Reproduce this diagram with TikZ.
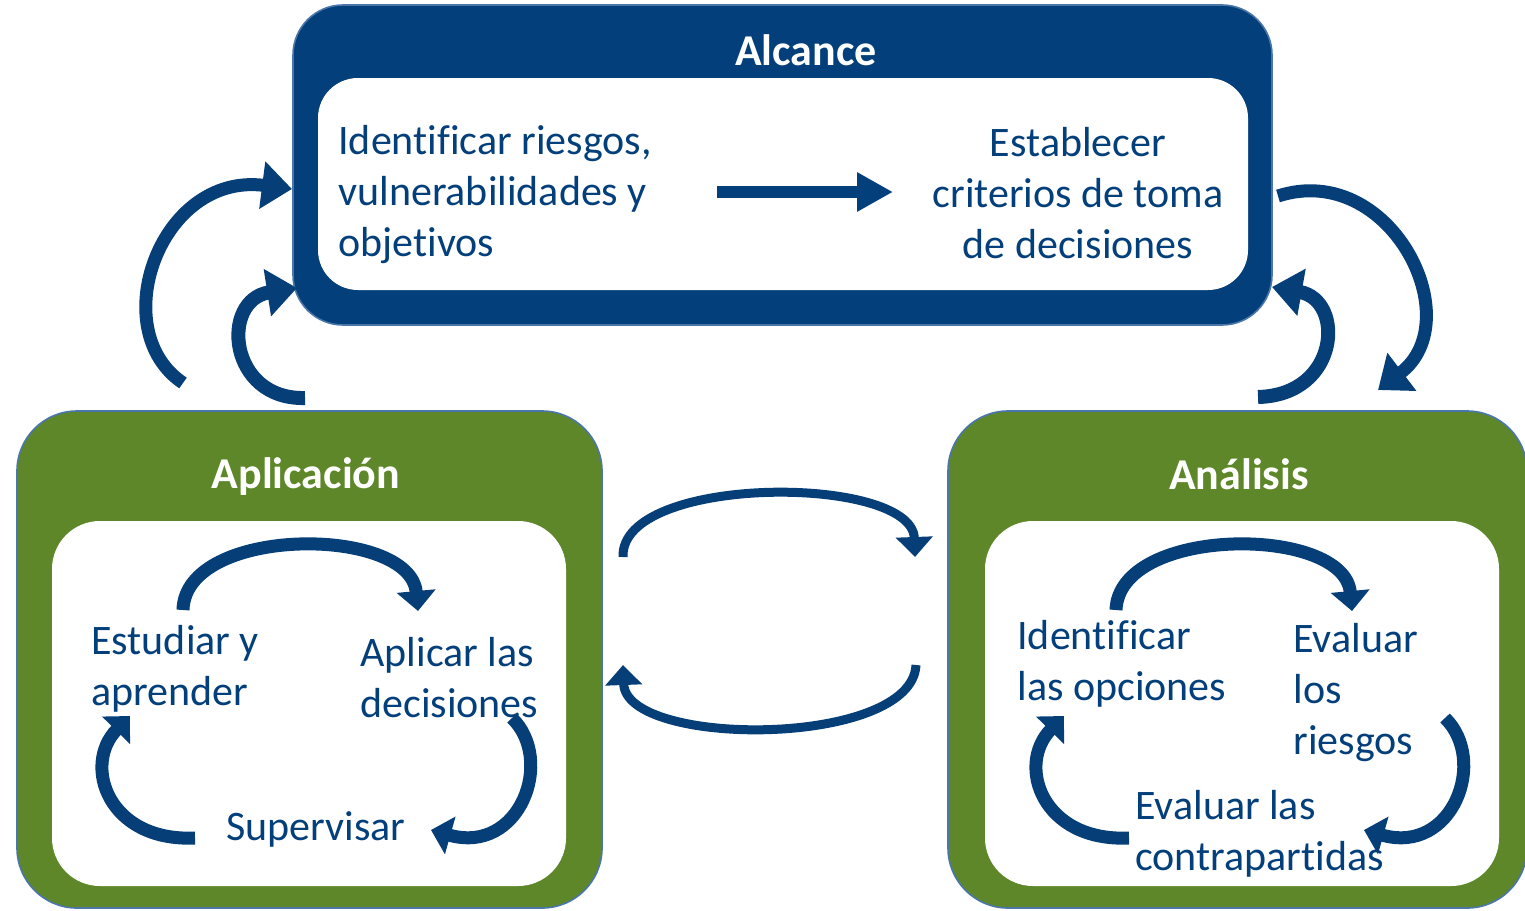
\documentclass[tikz,border=0pt]{standalone}
\usepackage{fontspec}
\setmainfont[Ligatures={NoCommon,NoContextual}]{Carlito}
\usetikzlibrary{arrows.meta}
\definecolor{navy}{HTML}{033F7A}
\definecolor{leaf}{HTML}{5E8729}
\definecolor{rim}{HTML}{4A76AA}
\definecolor{arr}{HTML}{063F78}
\tikzset{
  outerbox/.style={rounded corners=25pt, draw=rim, line width=0.8pt},
  innerbox/.style={rounded corners=20pt, fill=white},
  title/.style={text=white, font=\fontsize{22}{26}\selectfont\bfseries, inner sep=0pt},
  body/.style={text=navy, font=\fontsize{21}{25.5}\selectfont, inner sep=0pt},
  bigarr/.style={draw=arr, line width=6.5pt, -{Triangle[width=23pt,length=15pt]}},
  midarr/.style={draw=arr, line width=4.5pt, -{Triangle[width=18pt,length=10pt]}},
  smallarr/.style={draw=arr, line width=6.5pt, -{Triangle[width=19pt,length=10pt]}}
}
\begin{document}
\begin{tikzpicture}[x=0.5pt,y=-0.5pt]
\useasboundingbox (0,0) rectangle (1525,910);
\clip (0,0) rectangle (1525,910);
% Alcance
\fill[navy, outerbox] (293,5) rectangle (1272,325);
\fill[innerbox] (318,78) rectangle (1248,290);
\node[title] (talc) at (806,50) {Alcance};
\node[body, anchor=west, align=left] (ident) at (338,195) {Identificar riesgos,\\vulnerabilidades y\\objetivos};
\node[body, align=center] (estab) at (1078,193) {Establecer\\criterios de toma\\de decisiones};
\coordinate (sa) at (717,192);
\coordinate (sb) at (893,192);
\draw[draw=navy, line width=6pt, -{Triangle[width=18.5pt,length=18pt]}] (sa) -- (sb);
% Aplicacion
\fill[leaf, outerbox, rounded corners=30pt] (17,411) rectangle (602,908);
\fill[innerbox, rounded corners=24pt] (52,521) rectangle (566,886);
\node[title] (tapl) at (306,477) {Aplicación};
\node[body, anchor=west, align=left] (estud) at (91,669) {Estudiar y\\aprender};
\node[body, anchor=west, align=left] (aplic) at (360,678) {Aplicar las\\decisiones};
\node[body, anchor=west] (superv) at (226,829) {Supervisar};
% Analisis
\fill[leaf, outerbox, rounded corners=30pt] (948,411) rectangle (1527,908);
\fill[innerbox, rounded corners=24pt] (985,521) rectangle (1499,886);
\node[title] (tana) at (1239,474) {Análisis};
\node[body, anchor=west, align=left] (opc) at (1017,664) {Identificar\\las opciones};
\node[body, anchor=west, align=left] (riesg) at (1293,693) {Evaluar\\los\\riesgos};
\node[body, anchor=west, align=left] (contra) at (1135,834) {Evaluar las\\contrapartidas};
% outer curved arrows
\coordinate (l1a) at (183,383); \coordinate (l1b) at (292,189);
\draw[bigarr] (l1a) .. controls (104,330) and (160,172) .. (l1b);
\coordinate (l2a) at (305,398); \coordinate (l2b) at (297,288);
\draw[bigarr, line width=7pt] (l2a) .. controls (228,400) and (220,300) .. (l2b);
\coordinate (r1a) at (1278,196); \coordinate (r1b) at (1378,390);
\draw[bigarr] (r1a) .. controls (1390,160) and (1470,320) .. (r1b);
\coordinate (r2a) at (1258,397); \coordinate (r2b) at (1272,287);
\draw[bigarr, line width=7pt] (r2a) .. controls (1340,395) and (1345,300) .. (r2b);
% middle arrows
\coordinate (m1a) at (623,557); \coordinate (m1b) at (915,557);
\draw[midarr] (m1a) .. controls (620,474) and (912,474) .. (m1b);
\coordinate (m2a) at (916,665); \coordinate (m2b) at (623,665);
\draw[midarr] (m2a) .. controls (912,748) and (626,748) .. (m2b);
% Aplicacion cycle
\coordinate (a1a) at (183,610); \coordinate (a1b) at (418,611);
\draw[smallarr] (a1a) .. controls (185,525) and (410,525) .. (a1b);
\coordinate (a2a) at (512,718); \coordinate (a2b) at (431,830);
\draw[smallarr] (a2a) .. controls (555,760) and (520,855) .. (a2b);
\coordinate (a3a) at (195,838); \coordinate (a3b) at (130,716);
\draw[smallarr] (a3a) .. controls (108,842) and (82,765) .. (a3b);
% Analisis cycle
\coordinate (b1a) at (1116,610); \coordinate (b1b) at (1352,611);
\draw[smallarr] (b1a) .. controls (1119,525) and (1344,525) .. (b1b);
\coordinate (b2a) at (1445,718); \coordinate (b2b) at (1364,830);
\draw[smallarr] (b2a) .. controls (1488,760) and (1453,855) .. (b2b);
\coordinate (b3a) at (1129,838); \coordinate (b3b) at (1064,716);
\draw[smallarr] (b3a) .. controls (1042,842) and (1016,765) .. (b3b);
\end{tikzpicture}
\end{document}
